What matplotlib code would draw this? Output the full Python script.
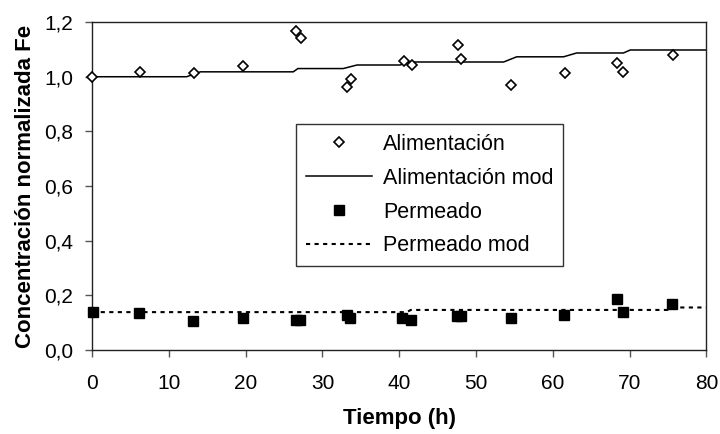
import numpy as np
import matplotlib
matplotlib.use("Agg")
from matplotlib import pyplot as plt

plt.rcParams['font.family'] = ['Liberation Sans', 'DejaVu Sans']

# Alimentacion (feed) measurements
t_alim = [0, 6.2, 13.3, 19.7, 26.6, 27.2, 33.2, 33.7, 40.6, 41.7,
          47.7, 48.1, 54.6, 61.6, 68.4, 69.1, 75.7]
c_alim = [1.000, 1.017, 1.012, 1.041, 1.168, 1.142, 0.961, 0.993, 1.056, 1.042,
          1.115, 1.066, 0.969, 1.012, 1.051, 1.017, 1.080]

# Permeado measurements
t_perm = [0.1, 6.1, 13.2, 19.6, 26.6, 27.1, 33.2, 33.6, 40.4, 41.5,
          47.5, 48.0, 54.5, 61.5, 68.4, 69.1, 75.5]
c_perm = [0.140, 0.136, 0.104, 0.117, 0.110, 0.110, 0.128, 0.116, 0.117, 0.110,
          0.122, 0.122, 0.117, 0.129, 0.185, 0.140, 0.167]

# model curves
t_alim_mod = [0, 12.3, 14.1, 26.2, 26.8, 32.7, 34.5, 40.1, 41.4, 53.6,
              55.3, 61.4, 63.1, 69.2, 70.1, 80]
c_alim_mod = [1.000, 1.000, 1.018, 1.018, 1.030, 1.030, 1.043, 1.043, 1.054, 1.054,
              1.073, 1.073, 1.087, 1.087, 1.098, 1.098]
t_perm_mod = [0, 41.0, 41.5, 75.0, 75.5, 80]
c_perm_mod = [0.138, 0.138, 0.146, 0.146, 0.155, 0.155]

x_ticks = [0, 10, 20, 30, 40, 50, 60, 70, 80]
y_ticks = [0.0, 0.2, 0.4, 0.6, 0.8, 1.0, 1.2]
y_ticklabels = ['0,0', '0,2', '0,4', '0,6', '0,8', '1,0', '1,2']

fig = plt.figure(figsize=(7.2, 4.34), dpi=100)
ax = fig.add_subplot(111)
fig.subplots_adjust(left=0.128, right=0.981, top=0.949, bottom=0.194)

ax.plot(t_alim, c_alim, linestyle='none', marker='D', markersize=5.2,
        markerfacecolor='white', markeredgecolor='black', markeredgewidth=1.2,
        label='Alimentación', zorder=3, clip_on=False)
ax.plot(t_alim_mod, c_alim_mod, color='black', lw=1.1, label='Alimentación mod')
ax.plot(t_perm, c_perm, linestyle='none', marker='s', markersize=6.5,
        color='black', label='Permeado', zorder=3, clip_on=False)
ax.plot(t_perm_mod, c_perm_mod, color='black', lw=1.5, linestyle=(0, (2, 2.1)),
        label='Permeado mod')

ax.set_xlim(0, 80)
ax.set_ylim(0, 1.2)
ax.set_xticks(x_ticks)
ax.set_xticklabels([str(v) for v in x_ticks])
ax.set_yticks(y_ticks)
ax.set_yticklabels(y_ticklabels)
ax.tick_params(axis='both', direction='out', length=5, width=1, color='#555555',
               labelsize=15)
ax.tick_params(axis='x', pad=12.5)
ax.tick_params(axis='y', pad=8.5)
for s in ax.spines.values():
    s.set_linewidth(1)
    s.set_color('#222222')

ax.set_xlabel('Tiempo (h)', fontsize=16, fontweight='bold', labelpad=11)
ax.set_ylabel('Concentración normalizada Fe', fontsize=16, fontweight='bold',
              labelpad=6)

leg = ax.legend(loc='upper left', bbox_to_anchor=(0.332, 0.689), borderaxespad=0,
                fontsize=15.5, frameon=True, fancybox=False, handlelength=3.1,
                handletextpad=0.5, borderpad=0.45, labelspacing=0.6, numpoints=1)
leg.get_frame().set_edgecolor('black')
leg.get_frame().set_linewidth(1)

fig.savefig('out.png', dpi=100)
